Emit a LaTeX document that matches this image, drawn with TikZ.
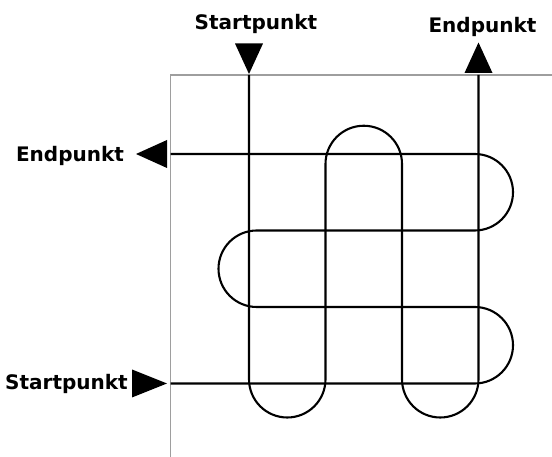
\documentclass[tikz,border=0pt]{standalone}
\usepackage{fontspec}
\setmainfont{DejaVu Sans}
\begin{document}
\begin{tikzpicture}[x=1pt,y=1pt,
  lbl/.style={font=\fontsize{20}{24}\selectfont\bfseries, inner sep=0pt, text=black},
  frame/.style={draw=black!38, line width=1.3pt},
  route/.style={draw=black, line width=2.1pt, line join=round},
  tip/.style={fill=black}]
\useasboundingbox (0,0) rectangle (552,457);
% frame
\coordinate (f0) at (170.5,0);
\coordinate (fc) at (170.5,382);
\coordinate (f1) at (552,382);
\draw[frame] (f0) -- (fc) -- (f1);
% horizontal route
\coordinate (hs) at (170.5,73.5);
\coordinate (he) at (170.5,303);
\draw[route] (hs) -- (474.75,73.5) arc[start angle=-90,end angle=90,radius=38.25]
  -- (256.75,150) arc[start angle=270,end angle=90,radius=38.25]
  -- (474.75,226.5) arc[start angle=-90,end angle=90,radius=38.25] -- (he);
% vertical route
\coordinate (vs) at (249,382);
\coordinate (ve) at (478.5,382);
\draw[route] (vs) -- (249,77.75) arc[start angle=180,end angle=360,radius=38.25]
  -- (325.5,293) arc[start angle=180,end angle=0,radius=38.25]
  -- (402,77.75) arc[start angle=180,end angle=360,radius=38.25] -- (ve);
% arrowheads
\fill[tip] (249,383) -- (235,413.5) -- (263,413.5) -- cycle;
\fill[tip] (464.5,384) -- (492.5,384) -- (478.5,414.5) -- cycle;
\fill[tip] (136,303) -- (167,317) -- (167,289) -- cycle;
\fill[tip] (132,87.5) -- (167,73.5) -- (132,59.5) -- cycle;
% labels
\node[lbl,anchor=base] (tStart) at (256,427.5) {Startpunkt};
\node[lbl,anchor=base] (tEnd) at (482.5,424.5) {Endpunkt};
\node[lbl,anchor=base] (lEnd) at (70,295.5) {Endpunkt};
\node[lbl,anchor=base] (lStart) at (66.5,67) {Startpunkt};
\end{tikzpicture}
\end{document}
